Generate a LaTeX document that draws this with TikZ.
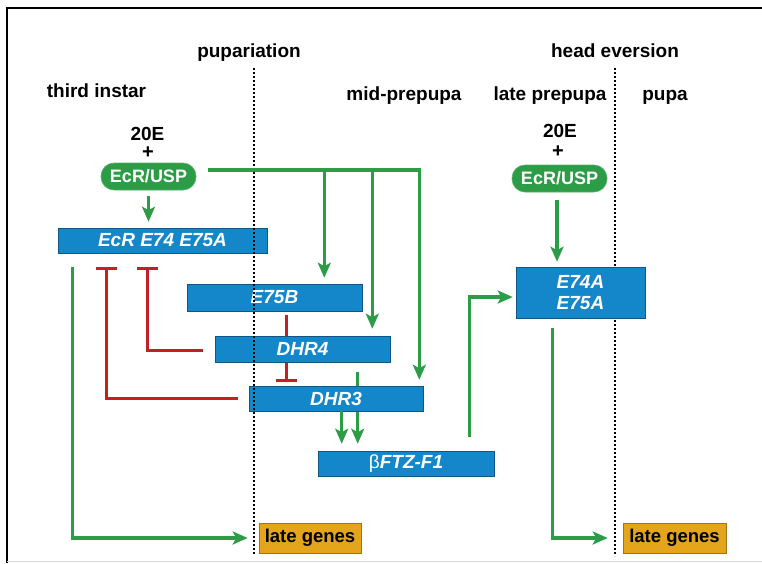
\documentclass[tikz,border=0pt]{standalone}
\usepackage{fontspec}
\setmainfont{Liberation Sans}
\usetikzlibrary{arrows.meta}
\definecolor{boxblue}{RGB}{20,134,202}
\definecolor{grn}{RGB}{44,156,70}
\definecolor{redc}{RGB}{196,32,36}
\definecolor{goldc}{RGB}{228,164,28}
\begin{document}
\begin{tikzpicture}[x=1pt,y=-1pt,
  lbl/.style={font=\fontsize{19}{21}\selectfont\bfseries, inner sep=0pt, anchor=base},
  plussign/.style={font=\fontsize{20}{21}\selectfont\bfseries, inner sep=0pt, anchor=center},
  genebox/.style={fill=boxblue, draw=boxblue!65!black, line width=0.6pt, text=white,
    font=\fontsize{19}{21}\selectfont\bfseries\itshape, inner sep=0pt, align=center},
  pill/.style={fill=grn, draw=grn!80!white, line width=0.6pt, rounded corners=13pt, text=white,
    font=\fontsize{18}{20}\selectfont\bfseries, inner sep=0pt, minimum width=95pt, minimum height=27pt},
  lategenes/.style={fill=goldc, draw=goldc!70!black, line width=0.6pt, text=black,
    font=\fontsize{18.5}{21}\selectfont\bfseries, inner sep=0pt, minimum width=102pt, minimum height=30pt},
  act/.style={draw=grn, line width=3.2pt, -{Stealth[length=15pt,width=13pt,inset=3.5pt]}},
  inh/.style={draw=redc, line width=3pt, -{Bar[width=21pt,line width=3pt]}},
  inhline/.style={draw=redc, line width=3pt},
  stage/.style={draw=black, line width=2pt, dash pattern=on 2pt off 2pt},
]
\useasboundingbox (0,0) rectangle (762,563);
\fill[white] (0,0) rectangle (762,563);
% frame
\coordinate (fTL) at (7,8);
\coordinate (fTR) at (762,8);
\coordinate (fBL) at (7,563);
\draw[line width=2.2pt] (fTR) -- (fTL) -- (fBL);
\draw[black!15, line width=0.6pt] (7,561) -- (762,561);

% stage labels
\node[lbl] (tPup) at (249,57) {pupariation};
\node[lbl] (tHead) at (615,57) {head eversion};
\node[lbl] (tThird) at (96.5,97) {third instar};
\node[lbl] (tMid) at (404,100) {mid-prepupa};
\node[lbl] (tLate) at (550,100) {late prepupa};
\node[lbl] (tPupa) at (665,100) {pupa};

% dotted line at head eversion (behind boxes)
\coordinate (d2top) at (615,68);
\coordinate (d2bot) at (615,556);
\draw[stage] (d2top) -- (d2bot);

% left receptor
\node[lbl] (e20L) at (147.5,140) {20E};
\node[plussign] (plusL) at (148,153) {+};
\node[pill] (pillL) at (148.5,176.5) {EcR/USP};

% right receptor
\node[lbl] (e20R) at (560,137) {20E};
\node[plussign] (plusR) at (558,152) {+};
\node[pill] (pillR) at (559.5,178.5) {EcR/USP};

% gene boxes
\node[genebox, minimum width=209pt, minimum height=25pt] (ecr) at (162.5,240.5) {EcR E74 E75A};
\node[genebox, minimum width=175pt, minimum height=27pt] (e75b) at (274.5,297.5) {E75B};
\node[genebox, minimum width=175pt, minimum height=26pt] (dhr4) at (302.5,349) {DHR4};
\node[genebox, minimum width=176pt, minimum height=25pt] (ftz) at (406,463.5) {{\mdseries\upshape β}FTZ-F1};

% DHR4 -> betaFTZ-F1 (passes behind DHR3)
\draw[act, shorten <=10pt, shorten >=7pt] ([xshift=143pt]dhr4.south west) -- ([xshift=143pt]dhr4.south west |- ftz.north);

\node[genebox, minimum width=174pt, minimum height=25pt] (dhr3) at (336,398.5) {DHR3};
\node[genebox, minimum width=129pt, minimum height=51pt] (e74a) at (580.5,292.5) {E74A\\[-0.5pt]E75A};

\node[lategenes] (lgL) at (310,538) {late genes};
\node[lategenes, minimum width=103pt] (lgR) at (674.5,538) {late genes};

% dotted line at pupariation (on top)
\coordinate (d1top) at (254,68);
\coordinate (d1bot) at (254,555);
\draw[stage] (d1top) -- (d1bot);

% green connectors
\draw[act, shorten <=6pt, shorten >=6pt] (pillL.south) -- (pillL.south |- ecr.north);
\coordinate (hstart) at ([xshift=12pt, yshift=6.5pt]pillL.east);
\draw[act, shorten >=6pt] (hstart) -| ([xshift=-4pt]dhr3.north east);
\coordinate (drop1) at ([xshift=-38pt]e75b.north east |- hstart);
\draw[act, shorten >=6pt] (drop1) -- ([xshift=-38pt]e75b.north east);
\coordinate (drop2) at ([xshift=-18pt]dhr4.north east |- hstart);
\draw[act, shorten >=7pt] (drop2) -- ([xshift=-18pt]dhr4.north east);

\draw[act, shorten >=7pt] ([xshift=93pt]dhr3.south west) -- ([xshift=93pt]dhr3.south west |- ftz.north);

\draw[act, shorten <=14pt, shorten >=11pt] ([xshift=15pt]ecr.south west) |- (lgL.west);
\draw[act, shorten <=14pt, shorten >=3pt] ([xshift=152pt]ftz.north west) |- ([yshift=-4.5pt]e74a.west);
\draw[act, shorten <=8pt, shorten >=5pt] ([xshift=-2.5pt]pillR.south) -- ([xshift=-2.5pt]pillR.south |- e74a.north);
\draw[act, shorten <=10pt, shorten >=15pt] ([xshift=37pt]e74a.south west) |- (lgR.west);

% red repression
\draw[inhline, shorten <=4pt] ([xshift=100pt]e75b.south west) -- ([xshift=100pt]e75b.south west |- dhr4.north);
\draw[inh, shorten <=1pt, shorten >=4pt] ([xshift=72pt]dhr4.south west) -- ([xshift=72pt]dhr4.south west |- dhr3.north);
\draw[inh, shorten <=12pt, shorten >=14pt] ([yshift=-1pt]dhr4.west) -| ([xshift=90pt]ecr.south west);
\draw[inh, shorten <=11pt, shorten >=14pt] (dhr3.west) -| ([xshift=49pt]ecr.south west);
\end{tikzpicture}
\end{document}
